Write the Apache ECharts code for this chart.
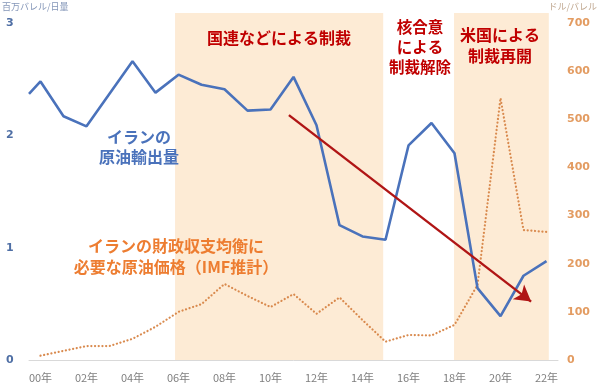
<!DOCTYPE html>
<html><head><meta charset="utf-8">
<script src="https://cdn.jsdelivr.net/npm/echarts@6/dist/echarts.min.js"></script>
<style>html,body{margin:0;padding:0;background:#fff}#c{width:600px;height:391px}</style>
</head><body><div id="c"></div>
<script>
const years = ['00年','01年','02年','03年','04年','05年','06年','07年','08年','09年','10年','11年','12年','13年','14年','15年','16年','17年','18年','19年','20年','21年','22年'];
// Iran crude oil exports (million barrels/day); first entry is the line's lead-in point at the left edge
const exportsLeadX = -0.5;
const exportsLead = 2.37;
const exportsVals = [2.48,2.17,2.08,2.37,2.66,2.38,2.54,2.45,2.41,2.22,2.23,2.52,2.09,1.20,1.10,1.07,1.91,2.11,1.84,0.64,0.39,0.75,0.88];
// Fiscal breakeven oil price (USD/bbl, IMF estimate)
const breakeven = [9,19,29,29,44,69,100,116,158,133,110,137,96,130,83,38,52,51,73,156,544,270,266];
const leftTicks = [0,1,2,3];
const rightTicks = [0,100,200,300,400,500,600,700];
// sanction periods (x in category-index units)
const periods = [[5.85,14.9],[17.98,22.1]];
// trend arrow (category index, export value)
const arrowFrom = [10.8,2.18], arrowTo = [21.33,0.52];

const JP = '"Noto Sans CJK JP","Noto Sans",sans-serif';
const chart = echarts.init(document.getElementById('c'));
chart.setOption({
  animation:false,
  grid:[{left:29,top:23,width:529,height:337},{left:29,top:13,width:529,height:347}],
  xAxis:[{
    type:'category',data:years,boundaryGap:true,gridIndex:0,
    axisLine:{lineStyle:{color:'#d9d9d9'}},
    axisTick:{interval:1,length:5,lineStyle:{color:'#d9d9d9'}},
    axisLabel:{interval:1,color:'#7f7f7f',fontSize:11,margin:12,fontFamily:JP}
  },{
    type:'value',min:-0.5,max:22.5,show:false,gridIndex:0
  },{
    type:'value',min:-0.5,max:22.5,show:false,gridIndex:1
  }],
  yAxis:[{
    type:'value',min:0,max:3,interval:1,gridIndex:0,
    splitLine:{show:false},axisLine:{show:false},axisTick:{show:false},
    axisLabel:{color:'#4f6fa5',fontWeight:'bold',fontSize:11,align:'left',margin:23,fontFamily:'Verdana,"DejaVu Sans",sans-serif'}
  },{
    type:'value',min:0,max:700,interval:100,position:'right',gridIndex:0,
    splitLine:{show:false},axisLine:{show:false},axisTick:{show:false},
    axisLabel:{color:'#e39c62',fontWeight:'bold',fontSize:11,margin:9,fontFamily:'Verdana,"DejaVu Sans",sans-serif'}
  },{
    type:'value',min:0,max:1,show:false,gridIndex:1
  }],
  series:[{
    type:'line',xAxisIndex:2,yAxisIndex:2,symbol:'none',z:0,
    data:[],
    markArea:{silent:true,itemStyle:{color:'#fdebd5'},
      data:periods.map(p=>[{xAxis:p[0],yAxis:1},{xAxis:p[1],yAxis:0}])}
  },{
    type:'line',xAxisIndex:1,yAxisIndex:1,symbol:'none',z:3,
    data:breakeven.map((v,i)=>[i,v]),
    lineStyle:{color:'#d98a4e',width:2.2,type:[0.1,3.6],cap:'round'}
  },{
    type:'line',xAxisIndex:1,yAxisIndex:0,symbol:'none',z:4,
    data:[[exportsLeadX,exportsLead]].concat(exportsVals.map((v,i)=>[i,v])),
    lineStyle:{color:'#4a72bb',width:2.6},
    markLine:{silent:true,symbol:['none','arrow'],symbolSize:[14,16],
      lineStyle:{color:'#b01515',width:2.4,type:'solid'},label:{show:false},
      data:[[{coord:arrowFrom},{coord:arrowTo}]]}
  }],
  graphic:[
    {type:'text',z:100,left:2,top:2,style:{text:'百万バレル/日量',fill:'#8496b8',font:'9px '+JP}},
    {type:'text',z:100,right:3,top:2,style:{text:'ドル/バレル',fill:'#c0a890',font:'9px '+JP}},
    {type:'text',z:100,x:279,y:38,style:{text:'国連などによる制裁',fill:'#c00000',font:'bold 16px '+JP,align:'center',verticalAlign:'middle'}},
    {type:'text',z:100,x:420,y:47,style:{text:'核合意\nによる\n制裁解除',fill:'#c00000',font:'bold 15.5px '+JP,align:'center',verticalAlign:'middle',lineHeight:20}},
    {type:'text',z:100,x:500,y:45,style:{text:'米国による\n制裁再開',fill:'#c00000',font:'bold 16px '+JP,align:'center',verticalAlign:'middle',lineHeight:21}},
    {type:'text',z:100,x:139,y:147,style:{text:'イランの\n原油輸出量',fill:'#4a72bb',font:'bold 16px '+JP,align:'center',verticalAlign:'middle',lineHeight:20}},
    {type:'text',z:100,x:176,y:256,style:{text:'イランの財政収支均衡に\n必要な原油価格（IMF推計）',fill:'#ed7d31',font:'bold 16px '+JP,align:'center',verticalAlign:'middle',lineHeight:21}}
  ]
});
</script></body></html>
